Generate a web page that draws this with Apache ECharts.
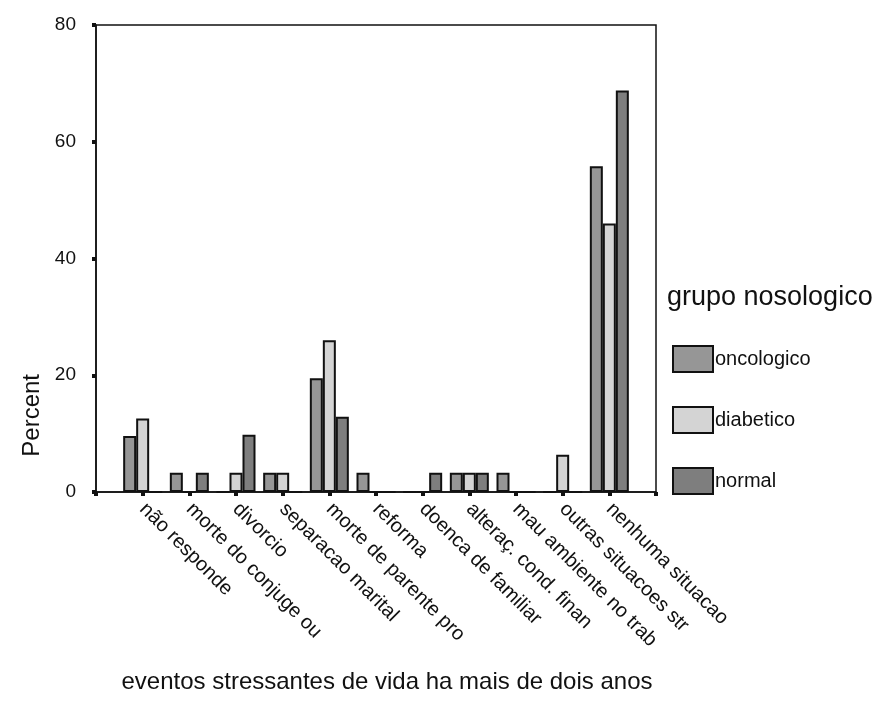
<!DOCTYPE html>
<html>
<head>
<meta charset="utf-8">
<script src="https://cdn.jsdelivr.net/npm/echarts@6/dist/echarts.min.js"></script>
<style>html,body{margin:0;padding:0;background:#fff;}#c{width:884px;height:716px;}</style>
</head>
<body>
<div id="c"></div>
<script>
var categories = ['', 'não responde', 'morte do conjuge ou', 'divorcio', 'separacao marital', 'morte de parente pro', 'reforma', 'doenca de familiar', 'alteraç. cond. finan', 'mau ambiente no trab', 'outras situacoes str', 'nenhuma situacao', ''];
var oncologico = [null, 9.6, 3.3, 0, 3.3, 19.5, 3.3, 0, 3.3, 3.3, 0, 55.8, null];
var diabetico  = [null, 12.6, 0, 3.3, 3.3, 26.0, 0, 0, 3.3, 0, 6.4, 46.0, null];
var normal     = [null, 0, 3.3, 9.8, 0, 12.9, 0, 3.3, 3.3, 0, 0, 68.8, null];
var yTicks = [0, 20, 40, 60, 80];

var chart = echarts.init(document.getElementById('c'));
var font = 'Liberation Sans, Arial, sans-serif';
function barSeries(name, data, color) {
  return {
    name: name, type: 'bar', data: data, barWidth: 13, barGap: '0%',
    itemStyle: { color: color, borderColor: '#111', borderWidth: 2 },
    emphasis: { disabled: true }
  };
}
chart.setOption({
  animation: false,
  textStyle: { fontFamily: font, color: '#111' },
  grid: { left: 96, right: 228, top: 25, bottom: 224, show: true, borderColor: '#111', borderWidth: 1.5, backgroundColor: 'transparent' },
  title: {
    text: 'grupo nosologico', left: 662, top: 279,
    textStyle: { fontFamily: font, fontSize: 27, fontWeight: 'normal', color: '#111' }
  },
  legend: {
    orient: 'vertical', left: 667, top: 340, itemWidth: 40, itemHeight: 26, itemGap: 33,
    icon: 'rect',
    textStyle: { fontFamily: font, fontSize: 20, color: '#111', padding: [0, 0, 0, -3] },
    data: ['oncologico', 'diabetico', 'normal']
  },
  xAxis: {
    type: 'category', data: categories, boundaryGap: false,
    axisLine: { lineStyle: { color: '#111', width: 1.5 } },
    axisTick: { show: true, length: 4, lineStyle: { color: '#111', width: 4 } },
    axisLabel: { rotate: -45, fontSize: 20, color: '#111', margin: 14, interval: 0, fontFamily: font },
    name: 'eventos stressantes de vida ha mais de dois anos',
    nameLocation: 'middle', nameGap: 178,
    nameTextStyle: { fontSize: 24, color: '#111', fontFamily: font, padding: [0, 0, 0, 22] }
  },
  yAxis: {
    type: 'value', min: 0, max: 80, interval: 20,
    splitLine: { show: false },
    axisLine: { show: true, lineStyle: { color: '#111', width: 1.5 } },
    axisTick: { show: true, length: 4, lineStyle: { color: '#111', width: 4 } },
    axisLabel: { fontSize: 19, color: '#111', margin: 20, fontFamily: font,
      formatter: function (v) { return yTicks.indexOf(v) >= 0 ? String(v) : ''; } }
  },
  graphic: [{
    type: 'text', left: 20, top: 374, rotation: Math.PI / 2,
    style: { text: 'Percent', font: '24px ' + font, fill: '#111' }
  }],
  series: [
    barSeries('oncologico', oncologico, '#969696'),
    barSeries('diabetico', diabetico, '#d4d4d4'),
    barSeries('normal', normal, '#7e7e7e')
  ]
});
</script>
</body>
</html>
